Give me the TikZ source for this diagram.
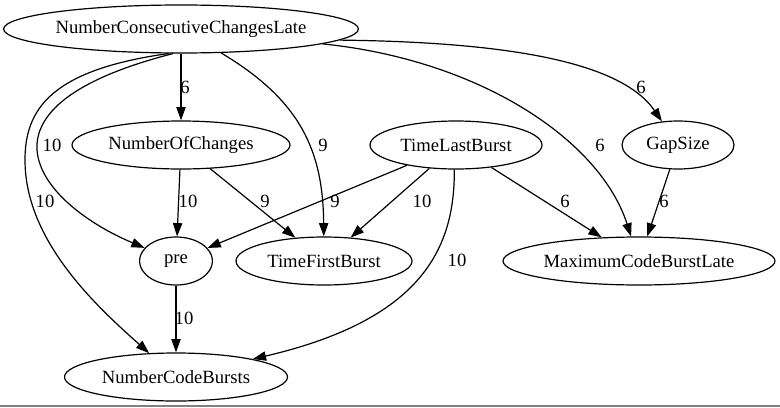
\documentclass[tikz,border=0pt]{standalone}
\usepackage{fontspec}
\setmainfont{Liberation Serif}
\usetikzlibrary{shapes.geometric,arrows.meta}
\tikzset{
  gnode/.style={draw, ellipse, inner sep=0pt, minimum height=36pt, font=\fontsize{14pt}{16pt}\selectfont, line width=0.9pt},
  gedge/.style={draw, line width=0.9pt, -{Triangle[length=10pt,width=7pt]}},
  glabel/.style={font=\fontsize{14pt}{16pt}\selectfont, inner sep=0pt}
}
\begin{document}
\begin{tikzpicture}[x=0.75pt,y=-0.75pt]
\useasboundingbox (0,0) rectangle (780,407);
\draw[gray, line width=1pt] (0,406) coordinate (gl1) -- (780,406) coordinate (gl2);
% nodes
\node[gnode, minimum width=264pt] (nccl) at (181,29) {NumberConsecutiveChangesLate};
\node[gnode, minimum width=163.5pt] (noc) at (181,145) {NumberOfChanges};
\node[gnode, minimum width=129pt] (tlb) at (456,145) {TimeLastBurst};
\node[gnode, minimum width=84pt] (gap) at (678,145) {GapSize};
\node[gnode, minimum width=54.75pt] (pre) at (176,261) {pre};
\node[gnode, minimum width=132pt] (tfb) at (324,261) {TimeFirstBurst};
\node[gnode, minimum width=204pt] (mcbl) at (639,261) {MaximumCodeBurstLate};
\node[gnode, minimum width=167.25pt] (ncb) at (176,377) {NumberCodeBursts};
% edges
\path[gedge] (nccl) -- (noc);
\path[gedge] (nccl.252) .. controls (70,80) and (35,115) .. (37,150) .. controls (40,190) and (90,225) .. (pre);
\path[gedge] (nccl.243) .. controls (50,70) and (25,110) .. (25,160) .. controls (25,240) and (95,305) .. (ncb);
\path[gedge] (nccl) .. controls (300,100) and (323,150) .. (tfb);
\path[gedge] (nccl.356) .. controls (500,42) and (620,60) .. (gap);
\path[gedge] (nccl.354) .. controls (480,60) and (600,140) .. (mcbl);
\path[gedge] (noc) -- (pre);
\path[gedge] (noc) -- (tfb);
\path[gedge] (tlb) -- (pre);
\path[gedge] (tlb) -- (tfb);
\path[gedge] (tlb.266) .. controls (455,250) and (420,320) .. (ncb);
\path[gedge] (tlb) -- (mcbl);
\path[gedge] (gap) -- (mcbl);
\path[gedge] (pre) -- (ncb);
% labels
\node[glabel] (l1) at (185,87) {6};
\node[glabel] (l2) at (52,145) {10};
\node[glabel] (l3) at (45,201) {10};
\node[glabel] (l4) at (323,145) {9};
\node[glabel] (l5) at (641,87) {6};
\node[glabel] (l6) at (600,145) {6};
\node[glabel] (l7) at (188,201) {10};
\node[glabel] (l8) at (265,201) {9};
\node[glabel] (l9) at (335,201) {9};
\node[glabel] (l10) at (422,201) {10};
\node[glabel] (l11) at (457,260) {10};
\node[glabel] (l12) at (565,201) {6};
\node[glabel] (l13) at (664,201) {6};
\node[glabel] (l14) at (184,318) {10};
\end{tikzpicture}
\end{document}
